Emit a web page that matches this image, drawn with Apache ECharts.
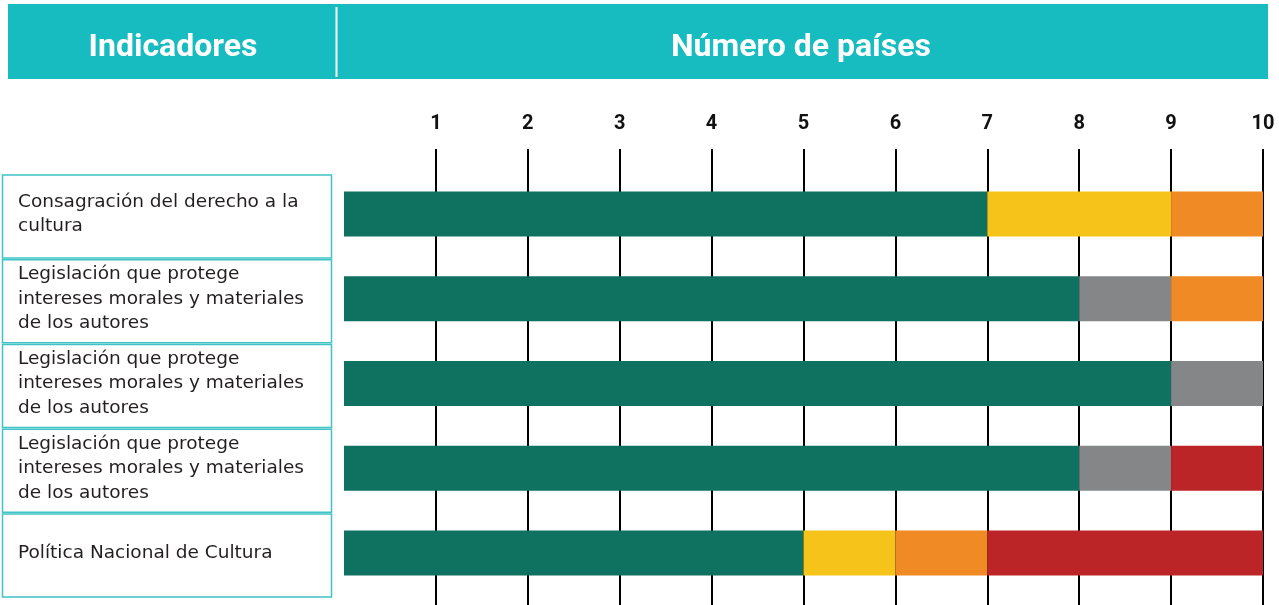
<!DOCTYPE html>
<html><head><meta charset="utf-8">
<script src="https://cdn.jsdelivr.net/npm/echarts@6/dist/echarts.min.js"></script>
<style>html,body{margin:0;padding:0;background:#fff}#c{width:1279px;height:605px}</style>
</head><body><div id="c"></div>
<script>
const categories = [
  "Consagración del derecho a la\ncultura",
  "Legislación que protege\nintereses morales y materiales\nde los autores",
  "Legislación que protege\nintereses morales y materiales\nde los autores",
  "Legislación que protege\nintereses morales y materiales\nde los autores",
  "Política Nacional de Cultura"
];
const green  = [7, 8, 9, 8, 5];
const yellow = [2, 0, 0, 0, 1];
const gray   = [0, 1, 1, 1, 0];
const orange = [1, 1, 0, 0, 1];
const red    = [0, 0, 0, 1, 3];
const tickLabels = ["", "1", "2", "3", "4", "5", "6", "7", "8", "9", "10"];
const headerLeft = "Indicadores";
const headerRight = "Número de países";

const FONT = "Roboto";
const LFONT = "DejaVu Sans";
const chart = echarts.init(document.getElementById('c'), null, {renderer: 'canvas'});
const gl = 344, gr = 16;
function seg(name, data, color) {
  return {name, type: 'bar', stack: 'all', data, xAxisIndex: 0, yAxisIndex: 0,
    barWidth: 45, itemStyle: {color}, emphasis: {disabled: true}, silent: true};
}
chart.setOption({
  animation: false,
  title: [
    {text: headerLeft, left: 168, top: 43, textAlign: 'center', textVerticalAlign: 'middle',
     textStyle: {color: '#fff', fontFamily: FONT, fontWeight: 'bold', fontSize: 32}},
    {text: headerRight, left: 796, top: 43, textAlign: 'center', textVerticalAlign: 'middle',
     textStyle: {color: '#fff', fontFamily: FONT, fontWeight: 'bold', fontSize: 32}}
  ],
  grid: [
    {left: gl, right: gr, top: 171.6, bottom: 9.6},
    {left: gl, right: gr, top: 149, bottom: 0}
  ],
  xAxis: [
    {gridIndex: 0, type: 'value', min: 0, max: 10, interval: 1, show: false},
    {gridIndex: 1, type: 'value', min: 0, max: 10, interval: 1, position: 'top',
     axisLine: {show: false}, axisTick: {show: false},
     axisLabel: {margin: 15, color: '#111', fontFamily: FONT, fontWeight: 'bold', fontSize: 20,
       formatter: v => tickLabels[v] || ''},
     splitLine: {show: true, showMinLine: false, lineStyle: {color: '#000', width: 2}}}
  ],
  yAxis: [
    {gridIndex: 0, type: 'category', data: categories, inverse: true,
     axisLine: {show: false}, axisTick: {show: false}, splitLine: {show: false},
     axisLabel: {align: 'left', margin: gl - 18, color: '#231f20', fontFamily: LFONT,
       fontSize: 18.5, lineHeight: 24.5}},
    {gridIndex: 1, type: 'value', show: false}
  ],
  series: [
    seg('green', green, '#0f7260'),
    seg('yellow', yellow, '#f5c31a'),
    seg('gray', gray, '#848688'),
    seg('orange', orange, '#f08a24'),
    seg('red', red, '#bc2528')
  ]
});

function drawDecor() {
  const g = [
    {type: 'rect', shape: {x: 8, y: 4, width: 1260, height: 75}, style: {fill: '#17bcc1'}, z: -10},
    {type: 'line', shape: {x1: 336.5, y1: 7, x2: 336.5, y2: 77}, style: {stroke: '#fff', lineWidth: 2}, z: -9}
  ];
  categories.forEach((c, i) => {
    const cy = chart.convertToPixel({yAxisIndex: 0}, i);
    g.push({type: 'rect', shape: {x: 2.5, y: cy - 39, width: 329, height: 83},
      style: {fill: '#fff', stroke: '#3fc3c7', lineWidth: 1.5}, z: -10});
  });
  chart.setOption({graphic: g});
}
drawDecor();
</script>
</body></html>
